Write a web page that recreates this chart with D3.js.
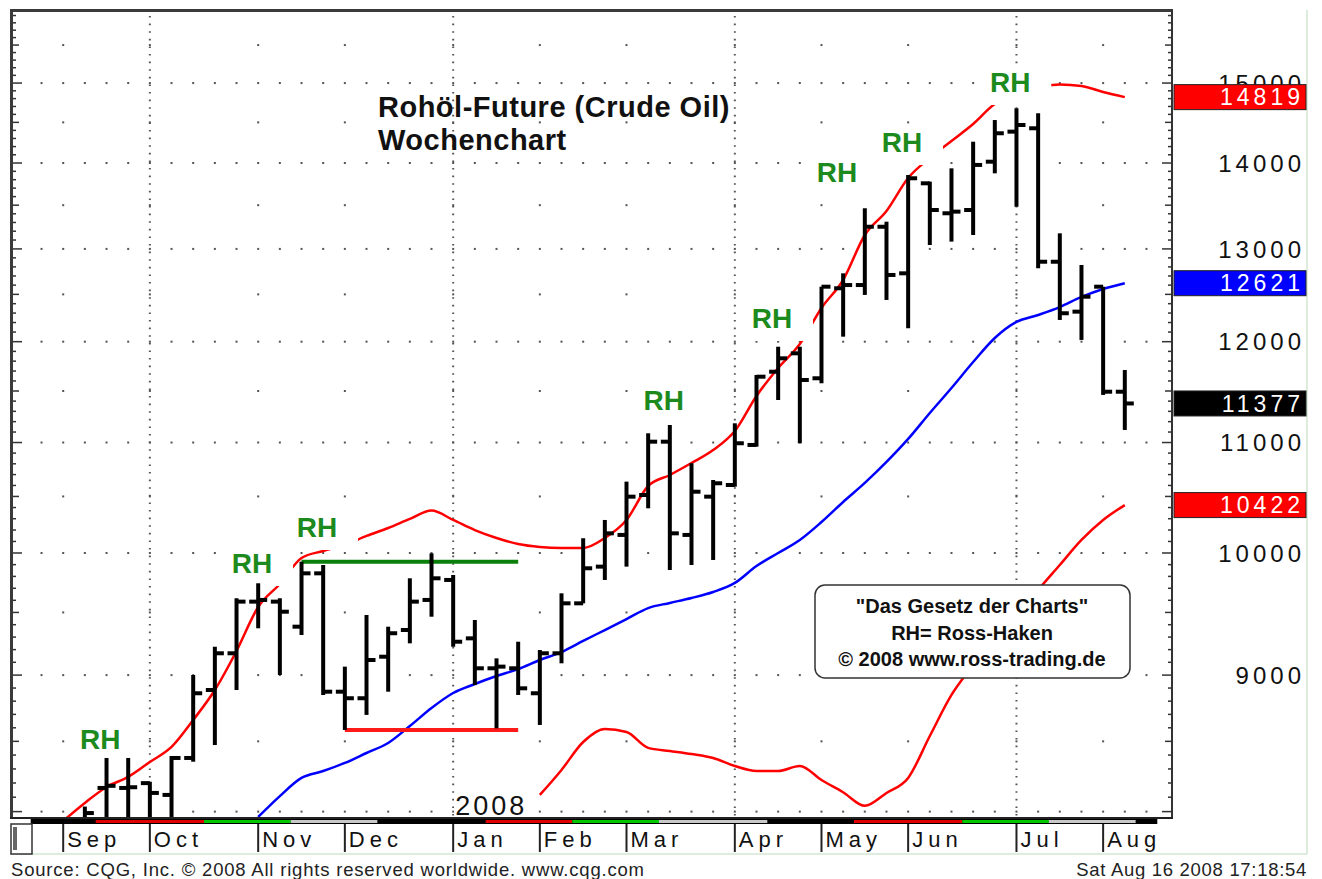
<!DOCTYPE html>
<html>
<head>
<meta charset="utf-8">
<script src="https://cdn.jsdelivr.net/npm/d3@7"></script>
<style>
  body { margin: 0; background: #fff; }
  svg { display: block; font-family: "Liberation Sans", Arial, sans-serif; }
</style>
</head>
<body>
<script>
// weekly bars, monday dates, Sep 3 2007 .. Aug 11 2008 (first week lies below the chart)
var firstWeek = new Date(Date.UTC(2007, 8, 3));
var lastWeek = new Date(Date.UTC(2008, 7, 11));
var weeks = d3.utcMonday.range(firstWeek, d3.utcDay.offset(lastWeek, 1));

var opens = [null, 7890, 8165, 8165, 8199, 8116, 8379, 8885, 9171, 9589,
  9589, 9384, 9826, 8872, 8822, 9144, 9357, 9603, 9770, 9290,
  9053, 9053, 8860, 9171, 9575, 9883, 10157, 10513, 11008, 10157,
  10498, 10604, 10977, 11693, 11880, 11627, 12566, 12601, 13251, 12729,
  13757, 13406, 13444, 14016, 14384, 14426, 12857, 12315, 12583, 11493];
var highs = [null, 8035, 8379, 8379, 8209, 8393, 9001, 9223, 9617, 9742,
  9617, 9925, 9897, 9066, 9479, 9384, 9784, 9997, 9812, 9438,
  9131, 9263, 9197, 9658, 10128, 10289, 10635, 11088, 11168, 10805,
  10650, 11184, 11660, 11948, 11948, 12583, 12729, 13464, 13309, 13856,
  13777, 13936, 14260, 14529, 14677, 14614, 13176, 12821, 12583, 11710];
var lows = [null, 7820, 7850, 7880, 7900, 7920, 8352, 8473, 8885, 9371,
  9001, 9317, 8847, 8584, 8696, 8872, 9250, 9465, 9223, 8923,
  8596, 8847, 8621, 9092, 9575, 9770, 9883, 10393, 9854, 9897,
  9940, 10589, 10961, 11411, 10993, 11577, 12052, 12494, 12440, 12140,
  13044, 13082, 13157, 13876, 13482, 12784, 12227, 12018, 11461, 11120];
var closes = [null, 7990, 8180, 8170, 8130, 8379, 8860, 9171, 9589, 9603,
  9506, 9826, 8872, 8822, 9118, 9331, 9589, 9784, 9263, 9053,
  9066, 8898, 9171, 9575, 9869, 10171, 10498, 11008, 10171, 10543,
  10620, 10993, 11643, 11829, 11610, 12583, 12601, 13251, 12711, 13817,
  13444, 13425, 13977, 14364, 14467, 12857, 12298, 12475, 11493, 11377];

var upperBand = [7936, 8060, 8172, 8243, 8350, 8459, 8658, 8885, 9189, 9545,
  9736, 9957, 10017, 10069, 10148, 10218, 10298, 10373, 10289, 10200,
  10130, 10078, 10052, 10043, 10043, 10130, 10289, 10595, 10696, 10807,
  10929, 11110, 11451, 11731, 11976, 12354, 12656, 13157, 13433, 13820,
  14061, 14269, 14480, 14731, 14846, 14949, 14982, 14962, 14885, 14819];
var movingAvg = [null, null, null, null, null, null, null, null, null, 7963,
  8108, 8236, 8285, 8343, 8415, 8488, 8613, 8748, 8862, 8931,
  8993, 9047, 9118, 9181, 9269, 9357, 9446, 9536, 9578, 9619,
  9669, 9745, 9888, 10000, 10113, 10271, 10450, 10623, 10817, 11034,
  11284, 11530, 11791, 12038, 12206, 12280, 12364, 12472, 12558, 12621];
var lowerBand = [null, null, null, null, null, null, null, null, null, null,
  null, null, null, null, null, null, null, null, null, null,
  null, null, 8116, 8293, 8495, 8591, 8569, 8452, 8430, 8408,
  8379, 8321, 8285, 8285, 8321, 8221, 8135, 8040, 8130, 8236,
  8539, 8847, 9079, 9317, 9455, 9686, 9897, 10113, 10289, 10422];

var priceTicks = [9000, 10000, 11000, 12000, 13000, 14000, 15000];
var lastValues = [14819, 12621, 11377, 10422];
var lastColors = ["#ff0000", "#0000ff", "#000000", "#ff0000"];

// RH marks: [date, price] where the label sits
var rhDates = ["2007-09-15", "2007-11-03", "2007-11-24", "2008-03-15",
  "2008-04-19", "2008-05-10", "2008-05-31", "2008-07-05"];
var rhPrices = [8444, 9829, 10139, 11313, 12143, 13773, 14134, 14885];

// coloured strip under the chart: [first week, last week, colour] (week 0 = Sep 3)
var stripWeeks = [[-1, 1, "#000"], [2, 6, "#e00000"], [7, 10, "#00c800"], [11, 14, "#c8c8c8"],
  [15, 19, "#000"], [20, 23, "#e00000"], [24, 27, "#00c800"], [28, 32, "#c8c8c8"],
  [33, 36, "#000"], [37, 41, "#e00000"], [42, 45, "#00c800"], [46, 49, "#c8c8c8"], [50, 50, "#000"]];

var width = 1322, height = 879;
var plotLeft = 12, plotRight = 1172, plotTop = 10, plotBottom = 818;

var svg = d3.select('body').append('svg')
  .attr('width', width)
  .attr('height', height);

var x = d3.scaleUtc()
  .domain([new Date(Date.UTC(2007, 7, 17, 11)), new Date(Date.UTC(2008, 7, 26, 6))])
  .range([plotLeft, plotRight]);
var y = d3.scaleLog()
  .domain([7956, 15976])
  .range([plotBottom, plotTop]);

var weekStep = x(weeks[1]) - x(weeks[0]);
var monthWeeks = weeks.filter(function(d, i) {
  return i == 0 || d.getUTCMonth() != weeks[i - 1].getUTCMonth();
});
var quarterWeeks = monthWeeks.filter(function(d) { return d.getUTCMonth() % 3 == 0; });

svg.append('clipPath').attr('id', 'plot')
  .append('rect').attr('x', plotLeft).attr('y', plotTop)
  .attr('width', plotRight - plotLeft).attr('height', plotBottom - plotTop);

var grid = svg.append('g');
var allWeeks = d3.utcMonday.range(x.domain()[0], x.domain()[1])
  .filter(function(d) { return x(d) > 30 && x(d) < plotRight - 8; });
var fullLevels = d3.range(8000, 15001, 1000);
var halfLevels = d3.range(8500, 15501, 1000);

fullLevels.forEach(function(v) {
  grid.selectAll(null).data(allWeeks).enter().append('rect')
    .attr('x', function(d) { return x(d) - 1; })
    .attr('y', y(v) - 1)
    .attr('width', 2).attr('height', 2)
    .attr('fill', '#555');
});
halfLevels.forEach(function(v) {
  grid.selectAll(null).data(monthWeeks).enter().append('rect')
    .attr('x', function(d) { return x(d) - 1; })
    .attr('y', y(v) - 1)
    .attr('width', 2).attr('height', 2)
    .attr('fill', '#555');
});
grid.selectAll(null).data(quarterWeeks).enter().append('line')
  .attr('x1', function(d) { return x(d); })
  .attr('x2', function(d) { return x(d); })
  .attr('y1', plotTop + 6).attr('y2', plotBottom)
  .attr('stroke', '#555').attr('stroke-width', 2)
  .attr('stroke-dasharray', '1.6,6');

var plot = svg.append('g').attr('clip-path', 'url(#plot)');

function bandLine(values) {
  return d3.line()
    .defined(function(d, i) { return values[i] != null; })
    .x(function(d) { return x(d); })
    .y(function(d, i) { return y(values[i]); })
    .curve(d3.curveMonotoneX)(weeks);
}
plot.append('path').attr('d', bandLine(upperBand))
  .attr('fill', 'none').attr('stroke', '#ff0000').attr('stroke-width', 2.5);
plot.append('path').attr('d', bandLine(lowerBand))
  .attr('fill', 'none').attr('stroke', '#ff0000').attr('stroke-width', 2.5);
plot.append('path').attr('d', bandLine(movingAvg))
  .attr('fill', 'none').attr('stroke', '#0000ff').attr('stroke-width', 2.5);

// RH labels with their white boxes
var rh = plot.selectAll('.rh').data(rhDates).enter().append('g').attr('class', 'rh')
  .attr('transform', function(d, i) {
    return 'translate(' + x(new Date(d + 'T00:00:00Z')) + ',' + y(rhPrices[i]) + ')';
  });
rh.append('rect').attr('x', -23).attr('y', -25).attr('width', 64).attr('height', 38).attr('fill', '#fff');
rh.append('text').text('RH')
  .attr('text-anchor', 'middle')
  .attr('font-size', 28).attr('font-weight', 'bold')
  .attr('fill', '#1c8a1c');

// resistance and support
plot.append('line')
  .attr('x1', x(weeks[11])).attr('x2', x(weeks[21]))
  .attr('y1', y(highs[11])).attr('y2', y(highs[11]))
  .attr('stroke', '#0a800a').attr('stroke-width', 4);
plot.append('line')
  .attr('x1', x(weeks[13])).attr('x2', x(weeks[21]))
  .attr('y1', y(lows[13])).attr('y2', y(lows[13]))
  .attr('stroke', '#ff1a1a').attr('stroke-width', 4);

// OHLC bars
var idx = d3.range(weeks.length).filter(function(i) { return opens[i] != null; });
var bars = plot.selectAll('.bar').data(idx).enter().append('g').attr('class', 'bar');
bars.append('line')
  .attr('x1', function(i) { return x(weeks[i]); })
  .attr('x2', function(i) { return x(weeks[i]); })
  .attr('y1', function(i) { return y(highs[i]); })
  .attr('y2', function(i) { return y(lows[i]); })
  .attr('stroke', '#000').attr('stroke-width', 4);
bars.append('line')
  .attr('x1', function(i) { return x(weeks[i]) - 9; })
  .attr('x2', function(i) { return x(weeks[i]); })
  .attr('y1', function(i) { return y(opens[i]); })
  .attr('y2', function(i) { return y(opens[i]); })
  .attr('stroke', '#000').attr('stroke-width', 4);
bars.append('line')
  .attr('x1', function(i) { return x(weeks[i]); })
  .attr('x2', function(i) { return x(weeks[i]) + 9; })
  .attr('y1', function(i) { return y(closes[i]); })
  .attr('y2', function(i) { return y(closes[i]); })
  .attr('stroke', '#000').attr('stroke-width', 4);

// frame and price ticks
var tickValues = d3.range(8000, 16000, 100);
function tickLen(v) { return v % 1000 == 0 ? 10 : (v % 500 == 0 ? 7 : 4); }
svg.append('g').selectAll('line').data(tickValues).enter().append('line')
  .attr('x1', plotLeft).attr('x2', function(v) { return plotLeft + tickLen(v); })
  .attr('y1', function(v) { return y(v); }).attr('y2', function(v) { return y(v); })
  .attr('stroke', '#333').attr('stroke-width', 1.5);
svg.append('g').selectAll('line').data(tickValues).enter().append('line')
  .attr('x1', plotRight).attr('x2', function(v) { return plotRight - tickLen(v); })
  .attr('y1', function(v) { return y(v); }).attr('y2', function(v) { return y(v); })
  .attr('stroke', '#333').attr('stroke-width', 1.5);

svg.append('line').attr('x1', 10).attr('x2', plotRight + 1).attr('y1', plotTop + 0.5).attr('y2', plotTop + 0.5)
  .attr('stroke', '#3a3a3a').attr('stroke-width', 3);
svg.append('line').attr('x1', plotLeft - 0.5).attr('x2', plotLeft - 0.5).attr('y1', plotTop).attr('y2', plotBottom)
  .attr('stroke', '#3a3a3a').attr('stroke-width', 3);
svg.append('line').attr('x1', plotRight).attr('x2', plotRight).attr('y1', plotTop).attr('y2', plotBottom + 1)
  .attr('stroke', '#333').attr('stroke-width', 2);
svg.append('line').attr('x1', 10).attr('x2', plotRight + 1).attr('y1', plotBottom).attr('y2', plotBottom)
  .attr('stroke', '#222').attr('stroke-width', 2);

// outer light frame
svg.append('line').attr('x1', 1307).attr('x2', 1307).attr('y1', plotTop).attr('y2', 854)
  .attr('stroke', '#d3e6d3').attr('stroke-width', 1.5);
svg.append('line').attr('x1', 10).attr('x2', 1307).attr('y1', 854).attr('y2', 854)
  .attr('stroke', '#d3e6d3').attr('stroke-width', 1.5);

// right price labels
svg.append('g').selectAll('text').data(priceTicks).enter().append('text')
  .text(function(d) { return d; })
  .attr('x', 1305).attr('y', function(d) { return y(d); })
  .attr('dy', '0.36em')
  .attr('text-anchor', 'end')
  .attr('font-size', 24).attr('letter-spacing', 4)
  .attr('fill', '#111');

var tags = svg.append('g').selectAll('g').data(lastValues).enter().append('g');
tags.append('rect')
  .attr('x', 1174).attr('width', 132)
  .attr('y', function(d) { return y(d) - 12.5; }).attr('height', 25)
  .attr('fill', function(d, i) { return lastColors[i]; })
  .attr('stroke', '#222').attr('stroke-width', 1);
tags.append('text')
  .text(function(d) { return d; })
  .attr('x', 1304).attr('y', function(d) { return y(d); })
  .attr('dy', '0.36em')
  .attr('text-anchor', 'end')
  .attr('font-size', 23).attr('letter-spacing', 4)
  .attr('fill', '#fff');

// time strip and month row
var strip = svg.append('g');
strip.append('rect').attr('x', x(d3.utcWeek.offset(firstWeek, -1)) - weekStep / 2).attr('y', plotBottom + 1)
  .attr('width', x(d3.utcWeek.offset(firstWeek, 50)) - x(d3.utcWeek.offset(firstWeek, -1)) + weekStep)
  .attr('height', 5).attr('fill', '#000');
strip.selectAll('.seg').data(stripWeeks.filter(function(s) { return s[2] != '#000'; })).enter().append('rect')
  .attr('x', function(s) { return x(d3.utcWeek.offset(firstWeek, s[0])) - weekStep / 2; })
  .attr('width', function(s) { return (s[1] - s[0] + 1) * weekStep; })
  .attr('y', plotBottom + 2).attr('height', 3)
  .attr('fill', function(s) { return s[2]; });

var months = svg.append('g');
months.selectAll('line').data(monthWeeks).enter().append('line')
  .attr('x1', function(d) { return x(d); }).attr('x2', function(d) { return x(d); })
  .attr('y1', plotBottom + 6).attr('y2', 852)
  .attr('stroke', '#222').attr('stroke-width', 2);
months.selectAll('text').data(monthWeeks).enter().append('text')
  .text(d3.utcFormat('%b'))
  .attr('x', function(d) { return x(d) + 4; })
  .attr('y', 847)
  .attr('font-size', 22).attr('letter-spacing', 5)
  .attr('fill', '#111');
svg.append('rect').attr('x', 11).attr('y', plotBottom + 6).attr('width', 21).attr('height', 30)
  .attr('fill', '#fff').attr('stroke', '#333').attr('stroke-width', 1.5);
svg.append('rect').attr('x', 13).attr('y', plotBottom + 9).attr('width', 4).attr('height', 23).attr('fill', '#666');

// year label
var yearBox = svg.append('g');
yearBox.append('rect').attr('x', x(weeks[18]) + 1).attr('y', 793).attr('width', 78).attr('height', 24).attr('fill', '#fff');
yearBox.append('text').text('2008')
  .attr('x', x(weeks[18]) + 2).attr('y', 815)
  .attr('font-size', 27).attr('letter-spacing', 3).attr('fill', '#111');

// title
svg.append('text').text('Rohöl-Future (Crude Oil)')
  .attr('x', 378).attr('y', 117)
  .attr('font-size', 29).attr('letter-spacing', 0.5).attr('font-weight', 'bold').attr('fill', '#111');
svg.append('text').text('Wochenchart')
  .attr('x', 378).attr('y', 150)
  .attr('font-size', 29).attr('letter-spacing', 0.5).attr('font-weight', 'bold').attr('fill', '#111');

// note box
var note = svg.append('g');
note.append('rect').attr('x', 815).attr('y', 585).attr('width', 315).attr('height', 93).attr('rx', 10)
  .attr('fill', '#fff').attr('stroke', '#333').attr('stroke-width', 1.5);
note.selectAll('text').data(['"Das Gesetz der Charts"', 'RH= Ross-Haken', '\u00a9 2008 www.ross-trading.de'])
  .enter().append('text')
  .text(function(d) { return d; })
  .attr('x', 972).attr('y', function(d, i) { return 613 + i * 26.5; })
  .attr('text-anchor', 'middle')
  .attr('font-size', 20).attr('font-weight', 'bold').attr('fill', '#111');

// footer
svg.append('text').text('Source: CQG, Inc. \u00a9 2008 All rights reserved worldwide. www.cqg.com')
  .attr('x', 11).attr('y', 876).attr('font-size', 18.5).attr('letter-spacing', 0.8).attr('fill', '#222');
svg.append('text').text('Sat Aug 16 2008 17:18:54')
  .attr('x', 1307).attr('y', 876).attr('text-anchor', 'end')
  .attr('font-size', 18.5).attr('letter-spacing', 0.7).attr('fill', '#222');
</script>
</body>
</html>
